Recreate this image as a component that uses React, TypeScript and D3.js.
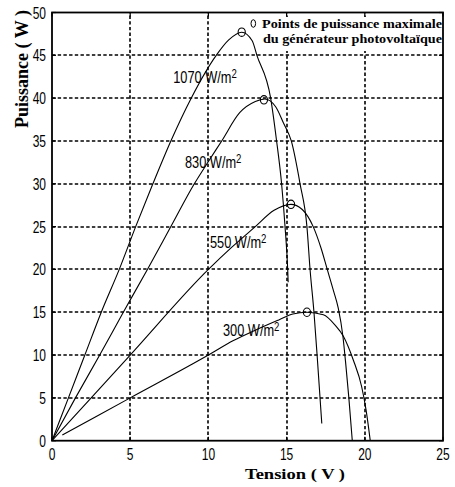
import React from 'react';
import * as d3 from 'd3';

// ---- Data ----
const V_1070 = [0, 1.05, 2.1, 3.15, 4.3, 5.35, 6.45, 7.6, 8.9, 10.5, 11.3, 12.13, 12.8, 13.1, 13.98, 14.36, 14.68, 14.9, 15.07, 15.1];
const P_1070 = [0, 5, 10, 15, 20, 25, 30, 35, 40, 45, 46.8, 47.7, 46.7, 45, 40, 35, 30, 25, 20, 18.5];

const V_830 = [0, 1.5, 3.05, 4.56, 6.1, 7.6, 9.1, 10.0, 10.85, 12.0, 13.0, 13.6, 14.3, 14.8, 15.3, 15.86, 16.3, 16.5, 16.75, 16.95, 17.1, 17.25];
const P_830 = [0, 5, 10, 15, 20, 25, 30, 32.6, 35, 38.3, 39.6, 39.9, 39.0, 37.1, 35, 30, 25, 20, 15, 10, 6, 2];

const V_550 = [0, 5, 10, 11.5, 13, 14.2, 15.28, 16.0, 16.7, 17.2, 17.6, 18.0, 18.3, 18.6, 18.78, 18.98, 19.2];
const P_550 = [0, 10, 20, 22.6, 25, 26.9, 27.6, 27.0, 25, 22.5, 20, 17.5, 15.5, 12.2, 9, 5, 0];

const V_300 = [0.66, 5, 10, 11.6, 13, 14.5, 15.4, 16.3, 17.35, 18.1, 18.63, 19.27, 19.8, 20.08, 20.35];
const P_300 = [0.66, 5, 10, 11.7, 12.9, 14.1, 14.8, 15.0, 14.7, 13.5, 12.2, 9.4, 6.3, 3.6, 0];

const IRRADIANCES = ['1070', '830', '550', '300'];
const MPP_V = [12.13, 13.55, 15.28, 16.3];
const MPP_P = [47.7, 39.8, 27.6, 15.0];

const LABEL_V = [7.75, 8.5, 10.1, 10.93];
const LABEL_P = [41.8, 31.9, 22.5, 12.2];

const X_TICKS = [0, 5, 10, 15, 20, 25];
const Y_TICKS = [0, 5, 10, 15, 20, 25, 30, 35, 40, 45, 50];

const LEGEND_LINES = ['Points de puissance maximale', 'du générateur photovoltaïque'];
const X_TITLE = 'Tension ( V )';
const Y_TITLE = 'Puissance ( W )';

export default function App() {
  const W = 455, H = 487;
  const L = 52, R = 443, T = 12.5, B = 440.7;
  const x = d3.scaleLinear().domain([0, 25]).range([L, R]);
  const y = d3.scaleLinear().domain([0, 50]).range([B, T]);
  const line = d3
    .line<[number, number]>()
    .x((d) => x(d[0]))
    .y((d) => y(d[1]))
    .curve(d3.curveMonotoneX);

  const series: [number, number][][] = [
    V_1070.map((v, i) => [v, P_1070[i]]),
    V_830.map((v, i) => [v, P_830[i]]),
    V_550.map((v, i) => [v, P_550[i]]),
    V_300.map((v, i) => [v, P_300[i]]),
  ];

  const numFont = "'Liberation Sans', Arial, sans-serif";
  const serif = "'Liberation Serif', 'Times New Roman', serif";
  const sx = 0.75;
  const tick = 4;
  const snap = (v: number) => Math.round(v);

  return (
    <svg
      width={W}
      height={H}
      viewBox={`0 0 ${W} ${H}`}
      style={{ position: 'absolute', left: 0, top: 0 }}
    >
      <rect x={0} y={0} width={W} height={H} fill="white" />
      {/* dotted grid */}
      {X_TICKS.slice(1, -1).map((t) => (
        <path
          key={'gx' + t}
          d={`M${snap(x(t))},${B}L${snap(x(t))},${T}`}
          stroke="black"
          strokeWidth={1.6}
          strokeDasharray="3.4 2.3"
          fill="none"
        />
      ))}
      {Y_TICKS.slice(1, -1).map((t) => (
        <path
          key={'gy' + t}
          d={`M${L},${snap(y(t))}L${R},${snap(y(t))}`}
          stroke="black"
          strokeWidth={1.6}
          strokeDasharray="3.4 2.3"
          fill="none"
        />
      ))}
      {/* legend background */}
      <rect x={258} y={17} width={184} height={34} fill="white" />

      {/* curves */}
      <g fill="none" stroke="#000" strokeWidth={1.1}>
        {series.map((s, i) => (
          <path key={'c' + i} d={line(s) || ''} />
        ))}
      </g>
      {/* MPP markers */}
      <g fill="none" stroke="#000" strokeWidth={1.1}>
        {MPP_V.map((v, i) => (
          <ellipse key={'m' + i} cx={x(v)} cy={y(MPP_P[i])} rx={3.6} ry={4.2} />
        ))}
      </g>

      {/* frame */}
      <rect x={L} y={T} width={R - L} height={B - T} fill="none" stroke="#000" strokeWidth={1.8} />
      {/* ticks */}
      <g stroke="#000" strokeWidth={1.2}>
        {X_TICKS.map((t) => (
          <g key={'tx' + t}>
            <line x1={x(t)} x2={x(t)} y1={B} y2={B - tick} />
            <line x1={x(t)} x2={x(t)} y1={T} y2={T + tick} />
          </g>
        ))}
        {Y_TICKS.map((t) => (
          <g key={'ty' + t}>
            <line x1={L} x2={L + tick} y1={y(t)} y2={y(t)} />
            <line x1={R} x2={R - tick} y1={y(t)} y2={y(t)} />
          </g>
        ))}
      </g>

      {/* tick labels */}
      <g fontFamily={numFont} fontSize={16} fill="#000">
        {X_TICKS.map((t) => (
          <text key={'lx' + t} transform={`translate(${x(t)},${460}) scale(${sx},1)`} textAnchor="middle">
            {t}
          </text>
        ))}
        {Y_TICKS.map((t) => (
          <text key={'ly' + t} transform={`translate(${46},${y(t) + 6}) scale(${sx},1)`} textAnchor="end">
            {t}
          </text>
        ))}
      </g>

      {/* curve labels */}
      <g fontFamily={numFont} fontSize={16} fill="#000">
        {IRRADIANCES.map((irr, i) => (
          <text key={'cl' + i} transform={`translate(${x(LABEL_V[i])},${y(LABEL_P[i])}) scale(0.8,1)`}>
            {irr + ' W/m'}
            <tspan dy={-5} fontSize={12}>2</tspan>
          </text>
        ))}
      </g>

      {/* legend */}
      <ellipse cx={253.3} cy={23.5} rx={2.3} ry={3.8} fill="none" stroke="#000" strokeWidth={1} />
      <g fontFamily={serif} fontWeight="bold" fontSize={12.5} fill="#000">
        <text x={262} y={28.3} textLength={180} lengthAdjust="spacingAndGlyphs">
          {LEGEND_LINES[0]}
        </text>
        <text x={263} y={42.5} textLength={179} lengthAdjust="spacingAndGlyphs">
          {LEGEND_LINES[1]}
        </text>
      </g>

      {/* axis titles */}
      <text
        x={295}
        y={478.5}
        textAnchor="middle"
        fontFamily={serif}
        fontWeight="bold"
        fontSize={15}
        textLength={100}
        lengthAdjust="spacingAndGlyphs"
      >
        {X_TITLE}
      </text>
      <text
        transform={`translate(28,69) rotate(-90)`}
        textAnchor="middle"
        fontFamily={serif}
        fontWeight="bold"
        fontSize={19}
        textLength={118}
        lengthAdjust="spacingAndGlyphs"
      >
        {Y_TITLE}
      </text>
    </svg>
  );
}
